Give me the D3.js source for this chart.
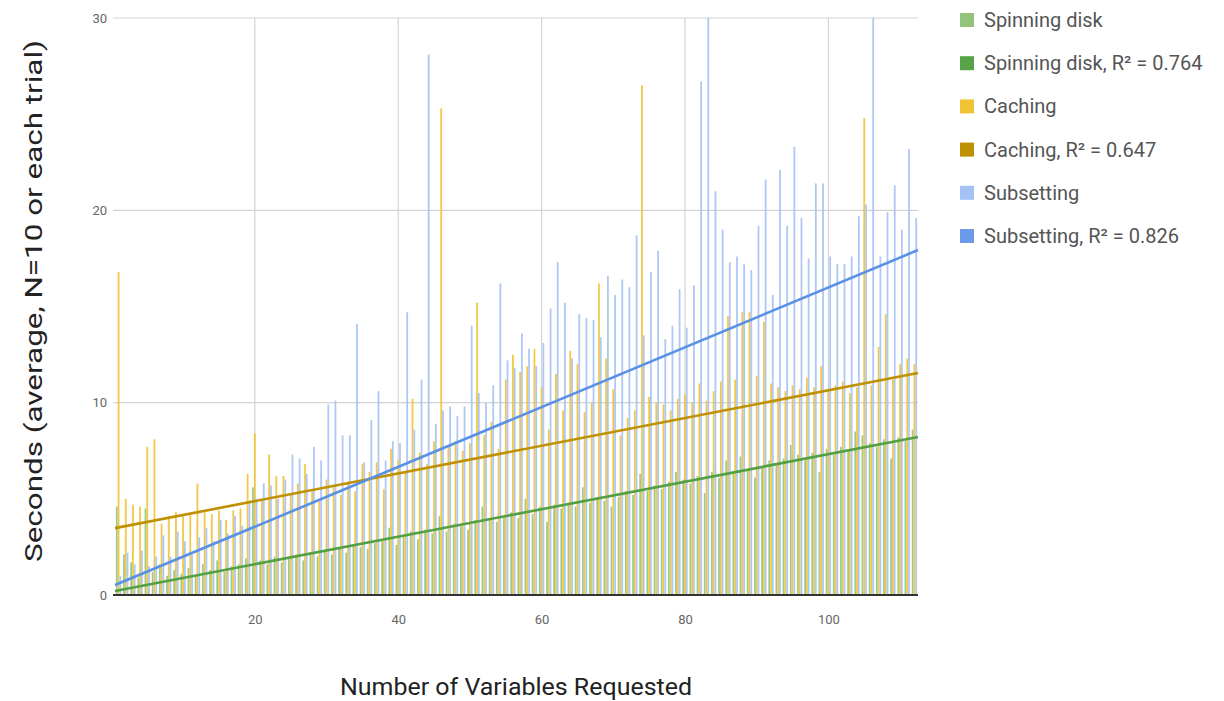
<!DOCTYPE html>
<html>
<head>
<meta charset="utf-8">
<script src="https://cdn.jsdelivr.net/npm/d3@7"></script>
<style>
  html, body { margin: 0; padding: 0; background: #fff; }
  svg { display: block; font-family: Roboto, "Noto Sans", sans-serif; }
</style>
</head>
<body>
<svg id="chart" width="1224" height="701"></svg>
<script>
// Number of variables requested per trial
const variables = d3.range(1, 113);

// Average seconds per trial (N=10)
const spinningDisk = [
  4.6, 2.1, 1.7, 0.9, 4.5, 1.2, 1.6, 1.0, 1.3, 1.1,
  1.4, 1.0, 1.6, 1.3, 1.8, 1.2, 1.5, 1.6, 1.9, 5.6,
  1.8, 1.6, 2.0, 1.7, 1.9, 2.1, 1.8, 2.2, 2.0, 2.3,
  2.1, 2.4, 2.2, 2.6, 2.5, 2.4, 2.7, 2.8, 3.5, 2.6,
  3.0, 3.3, 2.9, 3.4, 3.2, 4.1, 3.3, 3.7, 3.6, 3.4,
  3.9, 4.6, 4.0, 3.8, 4.1, 4.3, 4.0, 5.0, 4.2, 4.6,
  3.8, 4.7, 4.5, 4.8, 4.6, 5.6, 4.8, 5.1, 4.9, 4.6,
  5.1, 5.4, 5.2, 6.3, 5.4, 5.7, 5.5, 5.9, 6.4, 6.0,
  5.8, 6.2, 5.3, 6.4, 6.1, 7.0, 6.3, 7.2, 6.5, 6.1,
  6.6, 7.0, 6.8, 7.1, 7.8, 7.3, 7.0, 7.4, 6.4, 7.6,
  7.3, 7.7, 7.5, 8.5, 8.3, 7.9, 7.7, 8.1, 7.1, 8.2,
  8.0, 8.6
];
const caching = [
  16.8, 5.0, 4.7, 4.6, 7.7, 8.1, 3.7, 4.1, 4.3, 4.1,
  4.2, 5.8, 4.3, 4.2, 4.4, 3.9, 4.4, 4.5, 6.3, 8.4,
  5.0, 7.3, 6.2, 6.2, 5.3, 5.8, 6.8, 5.5, 5.0, 6.0,
  5.6, 5.2, 5.9, 5.4, 6.8, 6.4, 6.9, 5.5, 7.6, 7.0,
  6.4, 10.2, 7.4, 6.8, 8.0, 25.3, 7.8, 8.0, 7.5, 7.9,
  15.2, 8.3, 9.0, 7.6, 11.2, 12.5, 11.6, 11.9, 12.8, 10.8,
  8.6, 11.5, 9.6, 12.7, 12.0, 9.5, 10.0, 16.2, 12.3, 10.7,
  8.3, 9.2, 9.6, 26.5, 10.3, 10.0, 9.9, 9.6, 10.2, 10.4,
  10.0, 11.0, 10.1, 10.6, 11.1, 14.5, 11.2, 14.7, 14.7, 11.4,
  14.2, 11.0, 10.8, 10.6, 10.9, 10.7, 11.3, 10.8, 11.9, 10.6,
  10.9, 11.1, 10.5, 10.8, 24.8, 10.9, 12.9, 14.6, 11.2, 12.0,
  12.3, 12.0
];
const subsetting = [
  1.0, 2.2, 1.6, 2.3, 1.5, 2.0, 3.1, 2.0, 3.3, 2.8,
  2.1, 3.0, 3.5, 2.8, 3.9, 3.2, 4.1, 3.6, 4.8, 5.0,
  5.8, 5.7, 5.0, 6.0, 7.3, 7.1, 6.3, 7.7, 7.0, 9.9,
  10.1, 8.3, 8.3, 14.1, 6.9, 9.1, 10.6, 7.0, 8.0, 7.9,
  14.7, 8.6, 11.2, 28.1, 8.9, 9.6, 9.8, 9.3, 9.8, 14.0,
  10.5, 10.0, 10.9, 16.2, 12.2, 11.8, 13.6, 12.8, 11.9, 13.1,
  14.9, 17.3, 15.2, 12.3, 14.6, 14.4, 14.3, 13.4, 16.6, 15.6,
  16.4, 16.0, 18.7, 13.5, 16.8, 17.9, 13.3, 14.0, 15.9, 13.9,
  16.1, 26.7, 31.0, 21.0, 19.0, 17.3, 17.6, 17.2, 16.9, 19.2,
  21.6, 15.6, 22.1, 19.2, 23.3, 19.6, 17.5, 21.4, 21.4, 17.6,
  17.2, 17.2, 17.6, 19.7, 20.3, 31.0, 17.6, 19.9, 21.3, 19.0,
  23.2, 19.6
];

// Linear trendlines: [intercept, slope]
const trendSpinningDisk = [0.17, 0.0715];
const trendCaching = [3.44, 0.072];
const trendSubsetting = [0.44, 0.1555];

const yTicks = [0, 10, 20, 30];
const xTicks = [20, 40, 60, 80, 100];

const legendLabels = [
  "Spinning disk", "Spinning disk, R\u00b2 = 0.764",
  "Caching", "Caching, R\u00b2 = 0.647",
  "Subsetting", "Subsetting, R\u00b2 = 0.826"
];

const barColors = ["#93c47d", "#f1c232", "#a4c2f4"];
const trendColors = ["#52a042", "#bf9000", "#5b91e5"];
const legendColors = ["#93c47d", "#58a34a", "#f1c232", "#bf9000", "#a4c2f4", "#6b9ae8"];

const svg = d3.select("#chart");
const plot = { left: 115, right: 918, top: 18, bottom: 595 };

const x = d3.scaleLinear().domain([0.5, 112.5]).range([plot.left, plot.right]);
const y = d3.scaleLinear().domain([0, 30]).range([plot.bottom, plot.top]);

svg.append("defs").append("clipPath").attr("id", "plotClip")
  .append("rect")
  .attr("x", plot.left - 2).attr("y", plot.top)
  .attr("width", plot.right - plot.left + 4).attr("height", plot.bottom - plot.top);

// Gridlines
const grid = svg.append("g");
grid.selectAll("line.h").data(yTicks.filter(d => d > 0)).join("line")
  .attr("x1", plot.left - 2).attr("x2", plot.right)
  .attr("y1", d => y(d)).attr("y2", d => y(d))
  .attr("stroke", "#d4d4d4").attr("stroke-width", 1.2);
grid.selectAll("line.v").data(xTicks).join("line")
  .attr("x1", d => x(d)).attr("x2", d => x(d))
  .attr("y1", plot.top).attr("y2", plot.bottom)
  .attr("stroke", "#d4d4d4").attr("stroke-width", 1.2);

// Bars: three side-by-side columns per group
const step = x(2) - x(1);
const barW = step * 0.25;
const allSeries = [spinningDisk, caching, subsetting];
const bars = svg.append("g").attr("clip-path", "url(#plotClip)");
allSeries.forEach((vals, si) => {
  bars.append("g").selectAll("rect").data(vals).join("rect")
    .attr("x", (d, i) => x(variables[i]) + (si - 1.5) * barW)
    .attr("width", barW)
    .attr("y", d => y(d))
    .attr("height", d => y(0) - y(d))
    .attr("fill", barColors[si])
    .attr("opacity", 0.9);
});

// Baseline
svg.append("line")
  .attr("x1", plot.left - 2).attr("x2", plot.right)
  .attr("y1", y(0)).attr("y2", y(0))
  .attr("stroke", "#333").attr("stroke-width", 2);

// Trendlines
const trends = [trendSpinningDisk, trendCaching, trendSubsetting];
const line = d3.line().x(d => x(d[0])).y(d => y(d[1]));
trends.forEach((t, i) => {
  svg.append("path")
    .datum(x.domain().map(v => [v, t[0] + t[1] * v]))
    .attr("d", line)
    .attr("fill", "none")
    .attr("stroke", trendColors[i])
    .attr("stroke-width", 2.6);
});

// Axes
const xAxis = svg.append("g")
  .attr("transform", `translate(0,${plot.bottom + 20})`)
  .call(d3.axisBottom(x).tickValues(xTicks).tickSize(0).tickPadding(0));
xAxis.select(".domain").remove();
xAxis.selectAll("text").attr("font-size", 13).attr("fill", "#666")
  .attr("font-family", "Roboto, sans-serif");

const yAxis = svg.append("g")
  .attr("transform", `translate(${plot.left - 8},0)`)
  .call(d3.axisLeft(y).tickValues(yTicks).tickSize(0).tickPadding(0));
yAxis.select(".domain").remove();
yAxis.selectAll("text").attr("font-size", 13).attr("fill", "#666")
  .attr("font-family", "Roboto, sans-serif");

// Axis titles
svg.append("text")
  .attr("x", 516).attr("y", 695)
  .attr("text-anchor", "middle")
  .attr("font-size", 23).attr("fill", "#222")
  .attr("textLength", 352).attr("lengthAdjust", "spacingAndGlyphs")
  .text("Number of Variables Requested");

svg.append("text")
  .attr("transform", "translate(42,301) rotate(-90)")
  .attr("text-anchor", "middle")
  .attr("font-size", 24).attr("fill", "#222")
  .attr("textLength", 522).attr("lengthAdjust", "spacingAndGlyphs")
  .text("Seconds (average, N=10 or each trial)");

// Legend
const legend = svg.append("g").attr("transform", "translate(960,20)");
const items = legend.selectAll("g").data(legendLabels).join("g")
  .attr("transform", (d, i) => `translate(0,${i * 43.2})`);
items.append("rect")
  .attr("x", 0).attr("y", -7).attr("width", 14).attr("height", 14)
  .attr("fill", (d, i) => legendColors[i]);
items.append("text")
  .attr("x", 24).attr("y", 7)
  .attr("font-size", 20).attr("fill", "#555")
  .text(d => d);
</script>
</body>
</html>
